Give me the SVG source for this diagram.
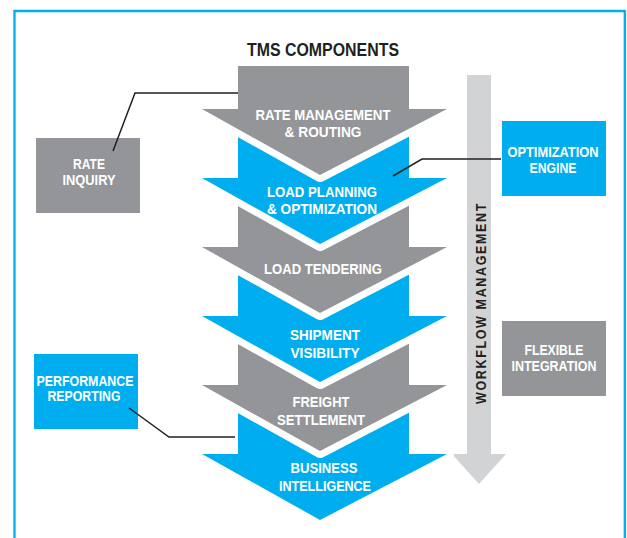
<svg xmlns="http://www.w3.org/2000/svg" width="627" height="538" viewBox="0 0 627 538">
<style>
.frame{fill:none;stroke:#00aeef;stroke-width:2.3}
.chev{stroke:#ffffff;stroke-width:14;stroke-linejoin:round;paint-order:stroke fill}
.gray{fill:#939598}
.blue{fill:#00aeef}
.bar{fill:#d1d3d4}
.lbl{font-family:"Liberation Sans",Arial,sans-serif;font-weight:bold;font-size:15px;fill:#ffffff;text-anchor:middle}
.side{font-family:"Liberation Sans",Arial,sans-serif;font-weight:bold;font-size:14px;fill:#ffffff;text-anchor:middle}
.title{font-family:"Liberation Sans",Arial,sans-serif;font-weight:bold;font-size:18.5px;fill:#231f20;text-anchor:middle}
.wf{font-family:"Liberation Sans",Arial,sans-serif;font-weight:bold;font-size:15px;fill:#231f20;text-anchor:middle;letter-spacing:2px}
.conn{fill:none;stroke:#231f20;stroke-width:1.5}
</style>
<rect x="0" y="0" width="627" height="538" fill="#ffffff"/>
<path class="frame" d="M14.5,545 V11 H624.8 V545"/>
<text class="title" x="323" y="56" textLength="152" lengthAdjust="spacingAndGlyphs">TMS COMPONENTS</text>

<g id="workflow-management">
<polygon class="bar" points="467,75 491,75 491,454 506,454 479,484 452,454 467,454"/>
<text class="wf" transform="translate(486,303) rotate(-90)" x="0" y="0" textLength="202" lengthAdjust="spacingAndGlyphs">WORKFLOW MANAGEMENT</text>
</g>

<g id="business-intelligence">
<polygon class="chev blue" points="238,385 409,385 409,454 447,454 320,520 202,454 238,454"/>
<text class="lbl" x="324" y="473" textLength="67" lengthAdjust="spacingAndGlyphs">BUSINESS</text>
<text class="lbl" x="325" y="491" textLength="92" lengthAdjust="spacingAndGlyphs">INTELLIGENCE</text>
</g>
<g id="freight-settlement">
<polygon class="chev gray" points="238,316 409,316 409,385 447,385 320,451 202,385 238,385"/>
<text class="lbl" x="321" y="407" textLength="57" lengthAdjust="spacingAndGlyphs">FREIGHT</text>
<text class="lbl" x="321" y="425" textLength="88" lengthAdjust="spacingAndGlyphs">SETTLEMENT</text>
</g>
<g id="shipment-visibility">
<polygon class="chev blue" points="238,247 409,247 409,316 447,316 320,382 202,316 238,316"/>
<text class="lbl" x="325" y="340" textLength="70" lengthAdjust="spacingAndGlyphs">SHIPMENT</text>
<text class="lbl" x="325" y="358" textLength="69" lengthAdjust="spacingAndGlyphs">VISIBILITY</text>
</g>
<g id="load-tendering">
<polygon class="chev gray" points="238,178 409,178 409,247 447,247 320,313 202,247 238,247"/>
<text class="lbl" x="323" y="274" textLength="118" lengthAdjust="spacingAndGlyphs">LOAD TENDERING</text>
</g>
<g id="load-planning">
<polygon class="chev blue" points="238,109 409,109 409,178 447,178 320,244 202,178 238,178"/>
<text class="lbl" x="322" y="197" textLength="110" lengthAdjust="spacingAndGlyphs">LOAD PLANNING</text>
<text class="lbl" x="322" y="214" textLength="110" lengthAdjust="spacingAndGlyphs">&amp; OPTIMIZATION</text>
</g>
<g id="rate-management">
<polygon class="chev gray" points="238,66 409,66 409,109 447,109 320,175 202,109 238,109"/>
<text class="lbl" x="323" y="120" textLength="135" lengthAdjust="spacingAndGlyphs">RATE MANAGEMENT</text>
<text class="lbl" x="323" y="137" textLength="77" lengthAdjust="spacingAndGlyphs">&amp; ROUTING</text>
</g>

<g id="rate-inquiry">
<rect class="gray" x="36" y="138" width="104" height="75"/>
<text class="side" x="89" y="169" textLength="32" lengthAdjust="spacingAndGlyphs">RATE</text>
<text class="side" x="89" y="184.5" textLength="53" lengthAdjust="spacingAndGlyphs">INQUIRY</text>
</g>
<g id="optimization-engine">
<rect class="blue" x="502" y="121" width="104" height="75"/>
<text class="side" x="553" y="157" textLength="91" lengthAdjust="spacingAndGlyphs">OPTIMIZATION</text>
<text class="side" x="553" y="173" textLength="47" lengthAdjust="spacingAndGlyphs">ENGINE</text>
</g>
<g id="flexible-integration">
<rect class="gray" x="502" y="321" width="104" height="75"/>
<text class="side" x="554" y="354.5" textLength="59" lengthAdjust="spacingAndGlyphs">FLEXIBLE</text>
<text class="side" x="554" y="370.5" textLength="85" lengthAdjust="spacingAndGlyphs">INTEGRATION</text>
</g>
<g id="performance-reporting">
<rect class="blue" x="34" y="354" width="104" height="75"/>
<text class="side" x="85" y="385.5" textLength="97" lengthAdjust="spacingAndGlyphs">PERFORMANCE</text>
<text class="side" x="84" y="401" textLength="73" lengthAdjust="spacingAndGlyphs">REPORTING</text>
</g>

<g id="connectors">
<path class="conn" d="M238,93 H135 L113,151"/>
<path class="conn" d="M501,159 H422 L393,176"/>
<path class="conn" d="M129,408 L169,437 H235"/>
</g>
</svg>
